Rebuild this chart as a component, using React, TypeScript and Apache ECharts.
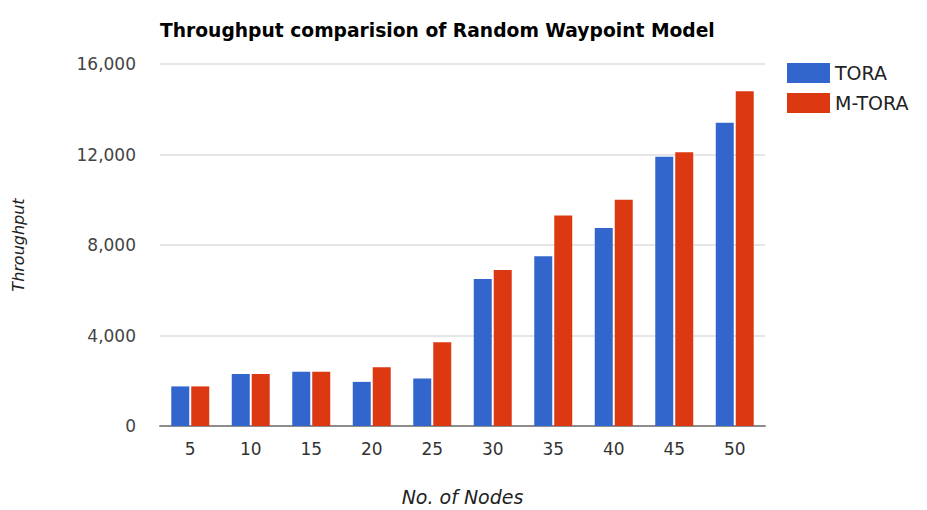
import React, { useEffect, useRef } from "react";
import * as echarts from "echarts";

const categories = ["5", "10", "15", "20", "25", "30", "35", "40", "45", "50"];
const toraValues = [1750, 2300, 2400, 1950, 2100, 6500, 7500, 8750, 11900, 13400];
const mToraValues = [1750, 2300, 2400, 2600, 3700, 6900, 9300, 10000, 12100, 14800];
const yTicks = { min: 0, max: 16000, interval: 4000 };

const FONT = "DejaVu Sans";

export default function App() {
  const ref = useRef<HTMLDivElement>(null);
  useEffect(() => {
    if (!ref.current) return;
    const chart = echarts.init(ref.current, undefined, { renderer: "svg" });
    chart.setOption({
      animation: false,
      backgroundColor: "#ffffff",
      textStyle: { fontFamily: FONT },
      title: {
        text: "Throughput comparision of Random Waypoint Model",
        left: 147,
        top: 8,
        textStyle: { fontFamily: FONT, fontWeight: "bold", fontSize: 18.7, color: "#000" },
      },
      legend: {
        orient: "vertical",
        left: 774,
        top: 50,
        itemWidth: 43,
        itemHeight: 20,
        itemGap: 10,
        icon: "rect",
        textStyle: { fontFamily: FONT, fontSize: 19, color: "#222" },
        data: ["TORA", "M-TORA"],
      },
      grid: {
        left: 152,
        right: 154,
        top: 56,
        bottom: 84,
        containLabel: false,
        outerBoundsMode: "none",
      },
      xAxis: {
        type: "category",
        data: categories,
        name: "No. of Nodes",
        nameLocation: "middle",
        nameGap: 61,
        nameTextStyle: { fontFamily: FONT, fontStyle: "italic", fontSize: 19, color: "#222" },
        axisLine: { lineStyle: { color: "#8c8c8c", width: 2 } },
        axisTick: { show: false },
        axisLabel: { fontFamily: FONT, fontSize: 17, color: "#333", margin: 14 },
      },
      yAxis: {
        type: "value",
        min: yTicks.min,
        max: yTicks.max,
        interval: yTicks.interval,
        name: "Throughput",
        nameLocation: "middle",
        nameGap: 134,
        nameTextStyle: { fontFamily: FONT, fontStyle: "italic", fontSize: 16, color: "#222" },
        axisLine: { show: false },
        axisTick: { show: false },
        splitLine: { lineStyle: { color: "#e6e6e6", width: 2 } },
        axisLabel: {
          fontFamily: FONT,
          fontSize: 17,
          color: "#444",
          margin: 24,
          formatter: (v: number) => v.toLocaleString("en-US"),
        },
      },
      series: [
        {
          name: "TORA",
          type: "bar",
          data: toraValues,
          barWidth: 18,
          barGap: "11%",
          itemStyle: { color: "#3366cc" },
        },
        {
          name: "M-TORA",
          type: "bar",
          data: mToraValues,
          barWidth: 18,
          itemStyle: { color: "#dc3912" },
        },
      ],
    });
    return () => chart.dispose();
  }, []);
  return <div ref={ref} style={{ width: 911, height: 502 }} />;
}
